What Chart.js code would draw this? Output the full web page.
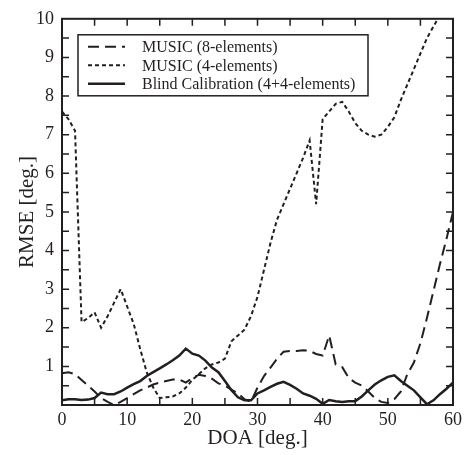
<!DOCTYPE html>
<html>
<head>
<meta charset="utf-8">
<script src="https://cdn.jsdelivr.net/npm/chart.js@4.4.1/dist/chart.umd.min.js"></script>
<style>
  html, body { margin: 0; padding: 0; background: #fff; }
  #wrap { width: 468px; height: 455px; }
</style>
</head>
<body>
<div id="wrap"><canvas id="chartContainer" width="468" height="455"></canvas></div>
<script>
"use strict";

// 1: data (DOA in degrees, RMSE in degrees)
const doa = [0, 1, 2, 3, 4, 5, 6, 7, 8, 9, 10, 11, 12, 13, 14, 15, 16, 17, 18, 19, 20,
  21, 22, 23, 24, 25, 26, 27, 28, 29, 30, 31, 32, 33, 34, 35, 36, 37, 38, 39, 40,
  41, 42, 43, 44, 45, 46, 47, 48, 49, 50, 51, 52, 53, 54, 55, 56, 57, 58, 59, 60];

const music8 = [0.82, 0.85, 0.8, 0.65, 0.5, 0.35, 0.18, 0.08, 0.0, 0.08, 0.18,
  0.28, 0.38, 0.45, 0.53, 0.58, 0.62, 0.66, 0.66, 0.58, 0.7,
  0.78, 0.75, 0.68, 0.56, 0.5, 0.4, 0.3, 0.15, 0.08, 0.45,
  0.75, 0.97, 1.2, 1.38, 1.4, 1.4, 1.42, 1.4, 1.32, 1.28,
  1.8, 1.05, 0.98, 0.7, 0.58, 0.5, 0.35, 0.18, 0.08, 0.05,
  0.15, 0.35, 0.8, 1.1, 1.6, 2.25, 2.95, 3.65, 4.3, 5.0];

const music4 = [7.6, 7.4, 7.1, 2.15, 2.25, 2.4, 2.0, 2.3, 2.65, 3.0, 2.55,
  2.1, 1.45, 0.85, 0.45, 0.18, 0.2, 0.22, 0.3, 0.45, 0.65,
  0.8, 0.95, 1.05, 1.1, 1.2, 1.65, 1.8, 1.95, 2.3, 2.8,
  3.5, 4.2, 4.8, 5.2, 5.6, 6.0, 6.4, 6.85, 5.2, 7.4,
  7.6, 7.8, 7.85, 7.6, 7.3, 7.1, 7.0, 6.95, 7.0, 7.2,
  7.45, 7.9, 8.3, 8.7, 9.1, 9.5, 9.8, 10.1, 10.5, 10.9];

const blind = [0.12, 0.15, 0.15, 0.13, 0.14, 0.18, 0.32, 0.28, 0.28, 0.35, 0.45,
  0.54, 0.62, 0.75, 0.85, 0.95, 1.05, 1.16, 1.28, 1.46, 1.33,
  1.28, 1.15, 0.97, 0.85, 0.62, 0.38, 0.2, 0.12, 0.12, 0.3,
  0.38, 0.47, 0.55, 0.6, 0.52, 0.42, 0.3, 0.24, 0.16, 0.03,
  0.13, 0.1, 0.08, 0.1, 0.1, 0.22, 0.38, 0.53, 0.64, 0.73,
  0.77, 0.62, 0.5, 0.38, 0.2, 0.02, 0.12, 0.28, 0.42, 0.58];

const seriesLabels = ['MUSIC (8-elements)', 'MUSIC (4-elements)', 'Blind Calibration (4+4-elements)'];
const xTicks = [0, 10, 20, 30, 40, 50, 60];
const yTicks = [1, 2, 3, 4, 5, 6, 7, 8, 9, 10];

const ink = '#231f20';
const serif = '"Liberation Serif", "Times New Roman", serif';

function points(values) {
  return values.map((v, i) => ({ x: doa[i], y: v }));
}

// 2: inward ticks on all four sides
const frameTicks = {
  id: 'frameTicks',
  afterDatasetsDraw(chart) {
    const ctx = chart.ctx;
    const a = chart.chartArea;
    const xs = chart.scales.x;
    const ys = chart.scales.y;
    ctx.save();
    ctx.strokeStyle = ink;
    ctx.lineWidth = 1.5;
    ctx.beginPath();
    for (let v = 5; v < 60; v += 5) {
      const px = xs.getPixelForValue(v);
      ctx.moveTo(px, a.bottom); ctx.lineTo(px, a.bottom - 7);
      ctx.moveTo(px, a.top); ctx.lineTo(px, a.top + 7);
    }
    for (let v = 0.5; v < 10; v += 0.5) {
      const py = ys.getPixelForValue(v);
      ctx.moveTo(a.left, py); ctx.lineTo(a.left + 7, py);
      ctx.moveTo(a.right, py); ctx.lineTo(a.right - 7, py);
    }
    ctx.stroke();
    ctx.lineWidth = 2;
    ctx.strokeRect(a.left, a.top, a.right - a.left, a.bottom - a.top);
    ctx.restore();
  }
};

// 3: boxed legend inside the plot
const boxLegend = {
  id: 'boxLegend',
  afterDraw(chart) {
    const ctx = chart.ctx;
    const a = chart.chartArea;
    const left = a.left + 16, top = a.top + 16;
    const w = 290, h = 61;
    ctx.save();
    ctx.fillStyle = '#fff';
    ctx.fillRect(left, top, w, h);
    ctx.strokeStyle = ink;
    ctx.lineWidth = 1.5;
    ctx.strokeRect(left, top, w, h);
    ctx.font = '16px ' + serif;
    ctx.textBaseline = 'middle';
    chart.data.datasets.forEach((ds, i) => {
      const y = top + 12 + i * 18.5;
      ctx.beginPath();
      ctx.setLineDash(ds.borderDash || []);
      ctx.lineWidth = ds.borderWidth;
      ctx.moveTo(left + 10, y);
      ctx.lineTo(left + 47, y);
      ctx.stroke();
      ctx.setLineDash([]);
      ctx.fillStyle = ink;
      ctx.fillText(ds.label, left + 64, y + 1);
    });
    ctx.restore();
  }
};

// 4: chart
function appendChart() {
  const el = document.getElementById('chartContainer');
  new Chart(el, {
    type: 'line',
    data: {
      datasets: [{
        label: seriesLabels[0],
        data: points(music8),
        borderColor: ink,
        borderWidth: 2,
        borderDash: [11, 6],
        pointRadius: 0,
        tension: 0
      },
      {
        label: seriesLabels[1],
        data: points(music4),
        borderColor: ink,
        borderWidth: 2,
        borderDash: [4, 3],
        pointRadius: 0,
        tension: 0
      },
      {
        label: seriesLabels[2],
        data: points(blind),
        borderColor: ink,
        borderWidth: 2.5,
        pointRadius: 0,
        tension: 0
      }]
    },
    options: {
      responsive: false,
      animation: false,
      layout: { padding: { top: 15, right: 15, left: 0, bottom: 0 } },
      plugins: {
        legend: { display: false },
        tooltip: { enabled: false }
      },
      scales: {
        x: {
          type: 'linear',
          min: 0,
          max: 60,
          afterBuildTicks(scale) { scale.ticks = xTicks.map(v => ({ value: v })); },
          afterFit(scale) { scale.height = 50; },
          grid: { display: false, drawTicks: false },
          border: { display: false },
          ticks: { color: ink, font: { family: serif, size: 18 }, padding: 4, maxRotation: 0 },
          title: { display: true, text: 'DOA [deg.]', color: ink, font: { family: serif, size: 21 }, padding: { top: 0, bottom: 4 } }
        },
        y: {
          min: 0,
          max: 10,
          afterBuildTicks(scale) { scale.ticks = yTicks.map(v => ({ value: v })); },
          afterFit(scale) { scale.width = 62; },
          grid: { display: false, drawTicks: false },
          border: { display: false },
          ticks: { color: ink, font: { family: serif, size: 18 }, padding: 8 },
          title: { display: true, text: 'RMSE [deg.]', color: ink, font: { family: serif, size: 21 }, padding: { top: 15, bottom: 0 } }
        }
      }
    },
    plugins: [frameTicks, boxLegend]
  });
}

appendChart();
</script>
</body>
</html>
